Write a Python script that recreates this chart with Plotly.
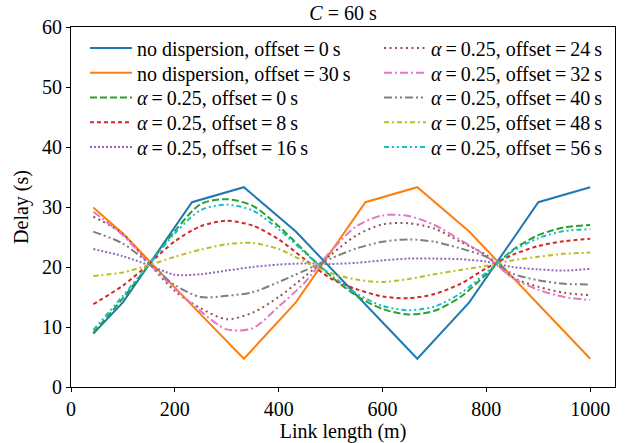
import plotly.graph_objects as go

# ---- data ----
length_nd = [43, 100, 233, 333, 433, 567, 667, 767, 900, 1000]
delay_nd_off0 = [8.9, 14.1, 30.8, 33.3, 25.9, 13.7, 4.7, 14.1, 30.8, 33.3]
delay_nd_off30 = [29.9, 25.6, 13.6, 4.7, 14.1, 30.8, 33.3, 25.9, 13.8, 4.7]

length_disp = [43, 100, 150, 200, 250, 300, 350, 400, 450, 500,
               550, 600, 650, 700, 750, 800, 850, 900, 950, 1000]
delay_a025_off0 = [9.0, 14.8, 20.4, 26.0, 30.5, 31.3, 30.2, 26.8, 22.6, 18.5,
                   15.2, 13.0, 12.1, 12.7, 15.0, 18.8, 22.8, 25.3, 26.6, 27.0]
delay_a025_off8 = [13.8, 16.9, 20.5, 24.3, 26.8, 27.7, 26.9, 24.6, 21.3, 18.1,
                   16.3, 15.1, 14.8, 15.5, 17.2, 19.8, 22.0, 23.5, 24.3, 24.7]
delay_a025_off16 = [23.0, 21.8, 20.3, 18.7, 18.8, 19.4, 20.0, 20.4, 20.6, 20.5,
                    20.7, 21.1, 21.4, 21.4, 21.3, 20.9, 20.0, 19.6, 19.4, 19.7]
delay_a025_off24 = [28.4, 25.5, 20.6, 16.0, 13.1, 11.3, 12.4, 15.0, 18.4, 22.0,
                    25.3, 27.1, 27.3, 26.4, 24.2, 22.0, 18.3, 16.7, 15.7, 15.3]
delay_a025_off32 = [29.2, 25.3, 20.6, 16.4, 12.6, 9.6, 9.8, 13.4, 17.4, 22.6,
                    26.8, 28.6, 28.5, 27.0, 24.5, 21.8, 18.2, 16.2, 15.0, 14.5]
delay_a025_off40 = [25.9, 23.9, 20.6, 17.0, 15.0, 15.2, 15.8, 17.5, 19.4, 21.4,
                    23.1, 24.2, 24.6, 24.2, 23.1, 21.7, 18.9, 17.8, 17.2, 17.1]
delay_a025_off48 = [18.5, 19.1, 20.3, 21.7, 22.9, 23.8, 24.0, 23.0, 20.9, 19.0,
                    17.9, 17.5, 18.0, 18.8, 19.5, 20.2, 21.1, 21.7, 22.2, 22.4]
delay_a025_off56 = [9.5, 15.2, 20.4, 25.6, 29.5, 30.4, 29.4, 26.3, 22.4, 18.7,
                    15.6, 13.5, 12.8, 13.4, 15.6, 19.1, 22.6, 24.8, 26.0, 26.3]

x_ticks = [0, 200, 400, 600, 800, 1000]
y_ticks = [0, 10, 20, 30, 40, 50, 60]

FONT = "Liberation Serif, Times New Roman, serif"
FS = 20
TS = "\u2009"  # thin space, as in the mathtext labels


def alpha_label(off):
    return f"<i>\u03b1</i>{TS}={TS}0.25, offset{TS}={TS}{off}{TS}s"


series = [
    (f"no dispersion, offset{TS}={TS}0{TS}s", length_nd, delay_nd_off0, "#1f77b4", "solid", "linear"),
    (f"no dispersion, offset{TS}={TS}30{TS}s", length_nd, delay_nd_off30, "#ff7f0e", "solid", "linear"),
    (alpha_label(0), length_disp, delay_a025_off0, "#2ca02c", "7px,3px", "spline"),
    (alpha_label(8), length_disp, delay_a025_off8, "#d62728", "4px,3px", "spline"),
    (alpha_label(16), length_disp, delay_a025_off16, "#9467bd", "2px,2px", "spline"),
    (alpha_label(24), length_disp, delay_a025_off24, "#8c564b", "2px,3.5px", "spline"),
    (alpha_label(32), length_disp, delay_a025_off32, "#e377c2", "8px,3px,2px,3px", "spline"),
    (alpha_label(40), length_disp, delay_a025_off40, "#7f7f7f", "8px,3px,2px,3px,2px,3px", "spline"),
    (alpha_label(48), length_disp, delay_a025_off48, "#bcbd22", "5px,3px,2px,3px", "spline"),
    (alpha_label(56), length_disp, delay_a025_off56, "#17becf", "5px,3px,2px,3px,2px,3px", "spline"),
]

# figure fills the whole window (body margin removed below)
W, H = 627, 443
# plot area in window pixels: x 71..615, y 27..387
L, T = 71, 27
R = W - 615
B = H - 387
PW, PH = W - L - R, H - T - B

fig = go.Figure()
legend_layout = {}
for i, (name, xs, ys, color, dash, shape) in enumerate(series):
    leg = "legend" if i == 0 else f"legend{i + 1}"
    fig.add_trace(go.Scatter(
        x=xs, y=ys, mode="lines", name=name,
        line=dict(color=color, width=2, dash=dash, shape=shape,
                  smoothing=0.8 if shape == "spline" else None),
        legend=leg,
    ))
    col, row = divmod(i, 5)
    left_px = 85 if col == 0 else 379
    center_px = 48 + 24.75 * row
    legend_layout[leg] = dict(
        x=(left_px - L) / PW, y=(H - B - center_px) / PH,
        xanchor="left", yanchor="middle",
        bgcolor="rgba(255,255,255,0)", borderwidth=0,
        font=dict(family=FONT, size=FS, color="black"), itemwidth=42,
    )

axis_common = dict(
    showgrid=False, zeroline=False, showline=True, linecolor="black", linewidth=1,
    mirror=True, ticks="outside", ticklen=4, tickwidth=1, tickcolor="black",
    tickfont=dict(family=FONT, size=FS, color="black"), automargin=False,
)

fig.update_layout(
    width=W, height=H,
    margin=dict(l=L, r=R, t=T, b=B),
    paper_bgcolor="white", plot_bgcolor="white",
    font=dict(family=FONT, size=FS, color="black"),
    title=dict(text="<i>C</i> = 60 s", x=(L + PW / 2) / W, xanchor="center",
               y=1 - 13 / H, yanchor="middle",
               font=dict(family=FONT, size=FS, color="black")),
    xaxis=dict(range=[0, 1047.75], tickvals=x_ticks,
               title=dict(text="Link length (m)", font=dict(family=FONT, size=FS), standoff=6),
               **axis_common),
    yaxis=dict(range=[0, 60], tickvals=y_ticks,
               title=dict(text="Delay (s)", font=dict(family=FONT, size=FS), standoff=8),
               **axis_common),
    showlegend=True,
    **legend_layout,
)

fig.write_html(
    "out.html",
    config={"displayModeBar": False},
    post_script="document.body.style.margin='0';document.body.style.overflow='hidden';",
)
